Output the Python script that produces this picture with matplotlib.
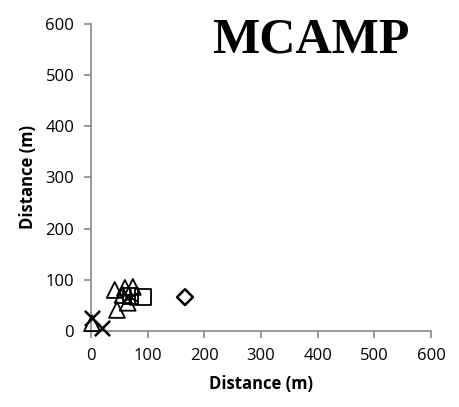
import matplotlib
matplotlib.use("Agg")
import matplotlib.pyplot as plt

tri_x = [42, 60, 74, 46, 65, 56, 2]
tri_y = [80, 84, 86, 41, 55, 70, 15]
sq_x = [92, 70]
sq_y = [66, 68]
dia_x = [166]
dia_y = [66]
x_x = [2, 19]
x_y = [25, 6]
star_x = [69]
star_y = [66]
ticks = [0, 100, 200, 300, 400, 500, 600]

plt.rcParams['font.family'] = ['Open Sans', 'DejaVu Sans']
fig = plt.figure(figsize=(4.59, 4.07), dpi=100)
ax = fig.add_axes([0.198, 0.187, 0.741, 0.754])
kw = dict(clip_on=False, zorder=3)
ax.scatter(tri_x, tri_y, marker='^', s=130, facecolors='none', edgecolors='black', linewidths=1.3, **kw)
ax.scatter(sq_x, sq_y, marker='s', s=130, facecolors='none', edgecolors='black', linewidths=1.3, **kw)
ax.scatter(dia_x, dia_y, marker='D', s=65, facecolors='none', edgecolors='black', linewidths=1.8, **kw)
ax.scatter(x_x, x_y, marker='x', s=120, color='black', linewidths=1.8, **kw)
ax.scatter(star_x, star_y, marker=(6, 2, 0), s=120, color='black', linewidths=1.3, **kw)
ax.set_xlim(0, 600)
ax.set_ylim(0, 600)
ax.set_xticks(ticks)
ax.set_yticks(ticks)
for s in ['top', 'right']:
    ax.spines[s].set_visible(False)
for s in ['left', 'bottom']:
    ax.spines[s].set_color('#888888')
    ax.spines[s].set_linewidth(1.2)
ax.tick_params(direction='out', length=5, color='#888888', labelsize=12, width=1.2, pad=7)
ax.set_xlabel('Distance (m)', fontsize=12, fontweight='bold', labelpad=8)
ax.set_ylabel('Distance (m)', fontsize=12, fontweight='bold', labelpad=6)
fig.text(0.677, 0.9, 'MCAMP', family='Liberation Serif', fontweight='bold', fontsize=36, ha='center', va='center')
fig.savefig('out.png', dpi=100)
